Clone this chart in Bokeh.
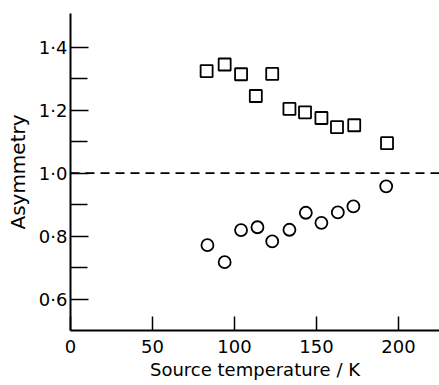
from bokeh.plotting import figure
from bokeh.models import FixedTicker, Span, Range1d
from bokeh.embed import file_html
from bokeh.resources import INLINE

# Data
temp_sq = [83, 94, 104, 113, 123, 133.5, 143, 153, 162.5, 173, 193]
asym_sq = [1.324, 1.345, 1.314, 1.245, 1.315, 1.204, 1.193, 1.175, 1.146, 1.152, 1.095]
temp_ci = [83.5, 94, 104, 114, 123, 133.5, 143.5, 153, 163, 172.5, 192.5]
asym_ci = [0.771, 0.717, 0.819, 0.828, 0.783, 0.820, 0.874, 0.842, 0.875, 0.894, 0.958]

x_ticks = [0, 50, 100, 150, 200]
x_labels = {0: "0", 50: "50", 100: "100", 150: "150", 200: "200"}
y_ticks = [0.6, 0.8, 1.0, 1.2, 1.4]
y_minor = [0.7, 0.9, 1.1, 1.3]
y_labels = {0.6: "0·6", 0.8: "0·8", 1.0: "1·0", 1.2: "1·2", 1.4: "1·4"}

FONT = "DejaVu Sans"

p = figure(width=439, height=385, output_backend="svg", toolbar_location=None,
           x_range=Range1d(0, 225), y_range=Range1d(0.5, 1.507),
           min_border_left=70, min_border_right=0, min_border_top=13, min_border_bottom=55)
p.outline_line_color = None
p.xgrid.visible = False
p.ygrid.visible = False
p.background_fill_color = "white"

xa = p.xaxis[0]
xa.ticker = FixedTicker(ticks=x_ticks, minor_ticks=[])
xa.major_label_overrides = x_labels
xa.axis_label = "Source temperature / K"
xa.axis_line_width = 2
xa.axis_line_color = "black"
xa.major_tick_in = 14
xa.major_tick_out = 0
xa.major_tick_line_width = 1.5
xa.minor_tick_in = 0
xa.minor_tick_out = 0
xa.major_label_text_font = FONT
xa.major_label_text_font_size = "18px"
xa.major_label_text_color = "black"
xa.major_label_standoff = 9
xa.axis_label_text_font = FONT
xa.axis_label_text_font_size = "18px"
xa.axis_label_text_font_style = "normal"
xa.axis_label_text_color = "black"
xa.axis_label_standoff = 3

ya = p.yaxis[0]
ya.ticker = FixedTicker(ticks=y_ticks, minor_ticks=y_minor)
ya.major_label_overrides = y_labels
ya.axis_label = "Asymmetry"
ya.axis_line_width = 2
ya.axis_line_color = "black"
ya.major_tick_in = 18
ya.major_tick_out = 0
ya.major_tick_line_width = 1.5
ya.minor_tick_in = 17
ya.minor_tick_out = 0
ya.minor_tick_line_width = 1.5
ya.minor_tick_line_color = "black"
ya.major_label_text_font = FONT
ya.major_label_text_font_size = "18px"
ya.major_label_text_color = "black"
ya.major_label_standoff = 3
ya.axis_label_text_font = FONT
ya.axis_label_text_font_size = "20px"
ya.axis_label_text_font_style = "normal"
ya.axis_label_text_color = "black"
ya.axis_label_standoff = 6

span = Span(location=1.0, dimension="width", line_color="black",
            line_width=1.6, line_dash="9 6")
p.add_layout(span)

p.scatter(temp_sq, asym_sq, marker="square", size=12, fill_color="white",
          line_color="black", line_width=1.8)
p.scatter(temp_ci, asym_ci, marker="circle", size=12, fill_color="white",
          line_color="black", line_width=1.8)

open("out.html", "w").write(file_html(p, INLINE))
